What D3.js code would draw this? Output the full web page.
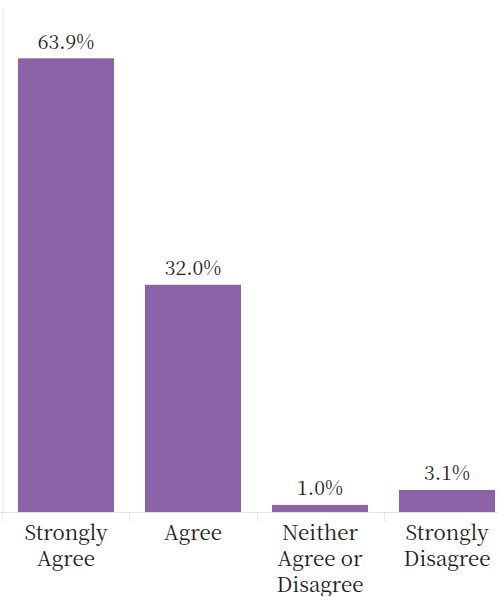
<!DOCTYPE html>
<html>
<head>
<meta charset="utf-8">
<script src="https://cdn.jsdelivr.net/npm/d3@7"></script>
<style>
  html, body { margin: 0; padding: 0; background: #fff; }
  svg { display: block; }
</style>
</head>
<body>
<svg id="chart" width="498" height="596"></svg>
<script>
// Survey responses (percent of respondents)
const categories = ["Strongly Agree", "Agree", "Neither Agree or Disagree", "Strongly Disagree"];
const values = [63.9, 32.0, 1.0, 3.1];
const valueLabels = ["63.9%", "32.0%", "1.0%", "3.1%"];

const width = 498, height = 596;
const svg = d3.select("#chart");
const fontFamily = "'Noto Sans CJK SC', serif";
const serifFamily = "'Noto Serif CJK SC', 'Liberation Serif', serif";
const barColor = "#8b61a8";

const x = d3.scaleBand()
  .domain(categories)
  .range([2.5, 510.5])
  .paddingInner(0.244)
  .paddingOuter(0.122);

const y = d3.scaleLinear()
  .domain([0, 70])
  .range([512, 15]);

// Faint left axis line
svg.append("line")
  .attr("x1", 3.5).attr("x2", 3.5)
  .attr("y1", 8).attr("y2", y(0))
  .attr("stroke", "#efefef").attr("stroke-width", 1);

// Bars
svg.selectAll("rect.bar")
  .data(categories)
  .join("rect")
  .attr("class", "bar")
  .attr("x", d => x(d))
  .attr("width", x.bandwidth())
  .attr("y", (d, i) => y(values[i]))
  .attr("height", (d, i) => y(0) - y(values[i]))
  .attr("fill", barColor);

// Value labels
svg.selectAll("text.value")
  .data(categories)
  .join("text")
  .attr("class", "value")
  .attr("x", d => x(d) + x.bandwidth() / 2)
  .attr("y", (d, i) => y(values[i]) - 9.5)
  .attr("text-anchor", "middle")
  .attr("font-family", serifFamily)
  .attr("font-size", 19.5)
  .attr("fill", "#1e1e1e")
  .text((d, i) => valueLabels[i]);

// Bottom axis with ticks at band boundaries
const axisY = y(0);
svg.append("line")
  .attr("x1", 0).attr("x2", width)
  .attr("y1", axisY + 0.5).attr("y2", axisY + 0.5)
  .attr("stroke", "#e4e4e4");

const step = x.step();
const boundaries = categories.map(d => x(d) - x.paddingInner() * step / 2);
svg.selectAll("line.tick")
  .data(boundaries)
  .join("line")
  .attr("class", "tick")
  .attr("x1", d => Math.round(d) + 0.5).attr("x2", d => Math.round(d) + 0.5)
  .attr("y1", axisY + 1).attr("y2", axisY + 10)
  .attr("stroke", "#ececec");

// Category labels, wrapped to the bar width; one text element per line
const lineHeight = 26;
const measure = svg.append("text")
  .attr("font-family", serifFamily)
  .attr("font-size", 20.5);

function wrapLines(label, maxW) {
  const words = label.split(" ");
  const lines = [];
  let line = [];
  words.forEach(w => {
    measure.text(line.concat(w).join(" "));
    if (line.length && measure.node().getComputedTextLength() > maxW) {
      lines.push(line.join(" "));
      line = [w];
    } else {
      line.push(w);
    }
  });
  lines.push(line.join(" "));
  return lines;
}

const catLines = categories.flatMap(d =>
  wrapLines(d, x.bandwidth() + 4).map((text, i) => ({ cat: d, text, i })));
measure.remove();

svg.selectAll("text.cat")
  .data(catLines)
  .join("text")
  .attr("class", "cat")
  .attr("x", d => x(d.cat) + x.bandwidth() / 2)
  .attr("y", d => axisY + 28 + d.i * lineHeight)
  .attr("text-anchor", "middle")
  .attr("font-family", serifFamily)
  .attr("font-size", 20.5)
  .attr("fill", "#1e1e1e")
  .text(d => d.text);
</script>
</body>
</html>
